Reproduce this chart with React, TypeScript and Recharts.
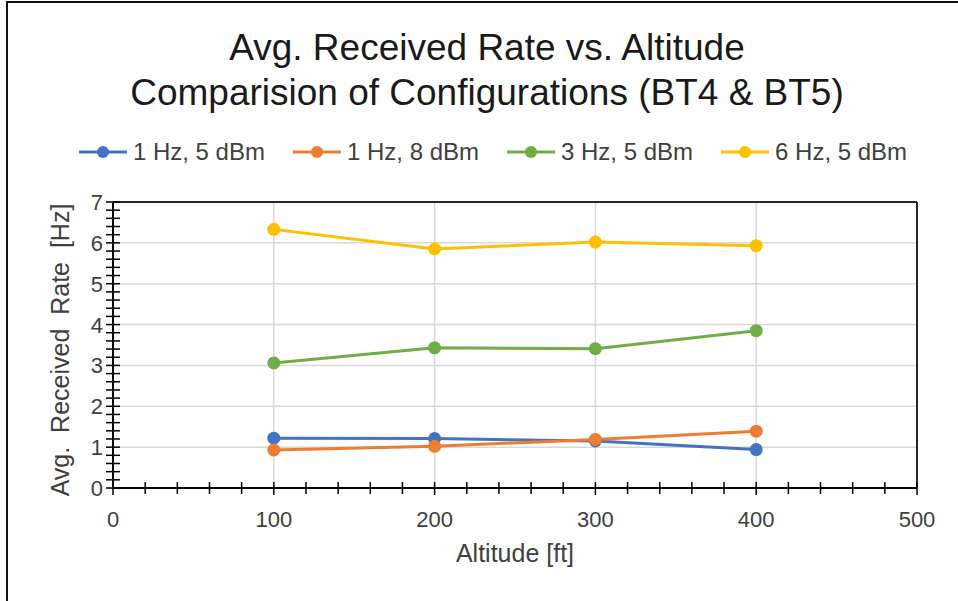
import React from "react";
import { LineChart, Line, XAxis, YAxis, ReferenceLine } from "recharts";

const altitudes = [100, 200, 300, 400];
const rate1Hz5dBm = [1.22, 1.21, 1.15, 0.94];
const rate1Hz8dBm = [0.93, 1.02, 1.19, 1.39];
const rate3Hz5dBm = [3.06, 3.43, 3.41, 3.85];
const rate6Hz5dBm = [6.33, 5.85, 6.02, 5.93];

const xMajorTicks = [0, 100, 200, 300, 400, 500];
const yMajorTicks = [0, 1, 2, 3, 4, 5, 6, 7];
// minor ticks: 5 steps between majors
const xMinorTicks = Array.from({ length: 26 }, (_, i) => i * 20);
const yMinorTicks = Array.from({ length: 36 }, (_, i) => i / 5);

const series = [
  { key: "a", name: "1 Hz, 5 dBm", color: "#4472C4" },
  { key: "b", name: "1 Hz, 8 dBm", color: "#ED7D31" },
  { key: "c", name: "3 Hz, 5 dBm", color: "#70AD47" },
  { key: "d", name: "6 Hz, 5 dBm", color: "#FFC000" },
];

const data = altitudes.map((alt, i) => ({
  altitude: alt,
  a: rate1Hz5dBm[i],
  b: rate1Hz8dBm[i],
  c: rate3Hz5dBm[i],
  d: rate6Hz5dBm[i],
}));

const FONT = "'Liberation Sans', Arial, sans-serif";
const TICK_COLOR = "#404040";

const isMajor = (v: number) => Math.abs(v - Math.round(v)) < 1e-6;

function XTick(props: any) {
  const { x, y, payload } = props;
  const v = payload.value as number;
  const major = v % 100 === 0;
  return (
    <g>
      <line x1={x} x2={x} y1={y - 6} y2={y + (major ? 7 : 6)} stroke="#000" strokeWidth={1.5} />
      {major && (
        <text x={x} y={y + 39} textAnchor="middle" fill={TICK_COLOR} fontSize={22} fontFamily={FONT}>
          {v}
        </text>
      )}
    </g>
  );
}

function YTick(props: any) {
  const { x, y, payload } = props;
  const v = payload.value as number;
  const major = isMajor(v);
  return (
    <g>
      <line x1={x - 7} x2={x + 7} y1={y} y2={y} stroke="#000" strokeWidth={1.5} />
      {major && (
        <text x={x - 10} y={y + 8} textAnchor="end" fill={TICK_COLOR} fontSize={22} fontFamily={FONT}>
          {Math.round(v)}
        </text>
      )}
    </g>
  );
}

function LegendContent() {
  return (
    <div
      style={{
        position: "absolute",
        left: 0,
        top: 138,
        width: 986,
        display: "flex",
        justifyContent: "center",
        alignItems: "center",
        fontFamily: FONT,
        fontSize: 24,
        color: TICK_COLOR,
        gap: 28,
      }}
    >
      {series.map((s) => (
        <div key={s.key} style={{ display: "flex", alignItems: "center", gap: 6 }}>
          <svg width={48} height={16}>
            <line x1={0} x2={48} y1={8} y2={8} stroke={s.color} strokeWidth={3} />
            <circle cx={24} cy={8} r={6} fill={s.color} />
          </svg>
          <span>{s.name}</span>
        </div>
      ))}
    </div>
  );
}

export default function App() {
  return (
    <div style={{ position: "absolute", left: 0, top: 0, width: 958, height: 601, background: "#fff", overflow: "hidden" }}>
      <div
        style={{
          position: "absolute",
          left: 6,
          top: 1,
          width: 958,
          height: 620,
          borderTop: "2px solid #111",
          borderLeft: "2px solid #111",
        }}
      />
      <LineChart
        width={958}
        height={601}
        data={data}
        margin={{ top: 202, right: 41, bottom: 13, left: 13 }}
        style={{ position: "absolute", left: 0, top: 0 }}
      >
        {yMajorTicks.map((v) => (
          <ReferenceLine key={`gy${v}`} y={v} stroke="#D9D9D9" strokeWidth={1.5} />
        ))}
        {xMajorTicks.map((v) => (
          <ReferenceLine key={`gx${v}`} x={v} stroke="#D9D9D9" strokeWidth={1.5} />
        ))}
        <ReferenceLine y={7} stroke="#262626" strokeWidth={2} />
        <ReferenceLine x={500} stroke="#262626" strokeWidth={2} />
        <XAxis
          type="number"
          dataKey="altitude"
          domain={[0, 500]}
          ticks={xMinorTicks}
          interval={0}
          tick={<XTick />}
          tickLine={false}
          tickSize={0}
          tickMargin={0}
          axisLine={{ stroke: "#000", strokeWidth: 2 }}
          height={100}
        />
        <YAxis
          type="number"
          domain={[0, 7]}
          ticks={yMinorTicks}
          interval={0}
          tick={<YTick />}
          tickLine={false}
          tickSize={0}
          tickMargin={0}
          axisLine={{ stroke: "#000", strokeWidth: 2 }}
          width={100}
        />
        {series.map((s) => (
          <Line
            key={s.key}
            type="linear"
            dataKey={s.key}
            name={s.name}
            stroke={s.color}
            strokeWidth={3}
            dot={{ r: 6.5, fill: s.color, stroke: s.color, strokeWidth: 0 }}
            activeDot={false}
            isAnimationActive={false}
          />
        ))}
      </LineChart>
      <LegendContent />
      <svg
        width={958}
        height={601}
        style={{ position: "absolute", left: 0, top: 0, pointerEvents: "none" }}
        fontFamily={FONT}
      >
        <text x={487} y={60} textAnchor="middle" fontSize={37} fill="#1a1a1a">
          Avg. Received Rate vs. Altitude
        </text>
        <text x={487} y={105} textAnchor="middle" fontSize={37} fill="#1a1a1a">
          Comparision of Configurations (BT4 &amp; BT5)
        </text>
        <text x={515} y={562} textAnchor="middle" fontSize={25} fill={TICK_COLOR}>
          Altitude [ft]
        </text>
        <text
          transform="translate(69 350) rotate(-90)"
          textAnchor="middle"
          fontSize={25}
          fill={TICK_COLOR}
          style={{ whiteSpace: "pre" }}
        >
          {"Avg.  Received  Rate  [Hz]"}
        </text>
      </svg>
    </div>
  );
}
